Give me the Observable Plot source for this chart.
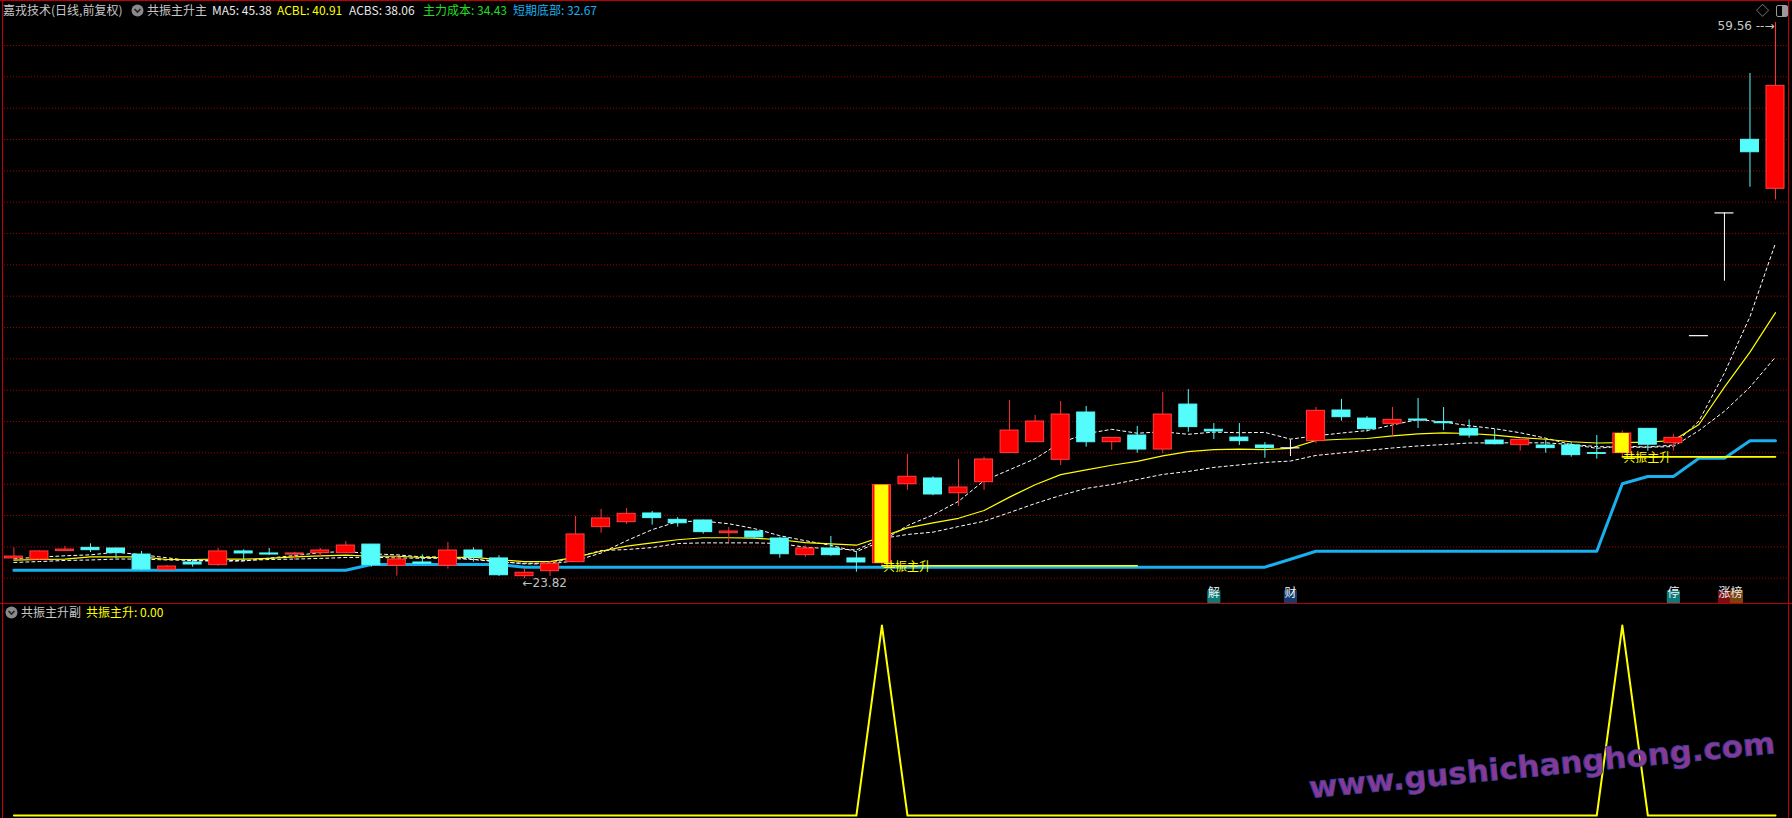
<!DOCTYPE html>
<html><head><meta charset="utf-8">
<script src="https://cdn.jsdelivr.net/npm/d3@7"></script>
<script src="https://cdn.jsdelivr.net/npm/@observablehq/plot@0.6"></script>
<style>
html,body{margin:0;padding:0;background:#000;width:1792px;height:818px;overflow:hidden;}
#wrap{position:relative;width:1792px;height:818px;background:#000;font-family:"Noto Sans CJK SC","DejaVu Sans",sans-serif;}
.abs{position:absolute;white-space:nowrap;font-size:12px;line-height:14px;}
.line{position:absolute;background:#c00000;}
#topPlot,#botPlot{position:absolute;left:0;}
#topPlot{top:0;} #botPlot{top:604px;}
</style></head>
<body><div id="wrap">
<div id="topPlot"></div>
<div id="botPlot"></div>
<div class="line" style="left:0;top:0;width:1792px;height:1px"></div>
<div class="line" style="left:2px;top:0;width:1px;height:818px"></div>
<div class="line" style="left:1788px;top:0;width:1px;height:818px"></div>
<div class="line" style="left:0;top:603px;width:1792px;height:1px"></div>

<div class="abs" style="left:3px;top:3px;color:#c8c8c8">嘉戎技术(日线,前复权)</div>
<svg style="position:absolute;left:131px;top:4px" width="13" height="13"><circle cx="6.5" cy="6.5" r="6" fill="#8a8a8a"/><path d="M3.5 5 L6.5 8 L9.5 5" stroke="#222" stroke-width="1.6" fill="none"/></svg>
<div class="abs" style="left:147px;top:3px;color:#c8c8c8">共振主升主</div>
<div class="abs" style="left:212px;top:3px;color:#e8e8e8">MA5: 45.38</div>
<div class="abs" style="left:277px;top:3px;color:#ffff00">ACBL: 40.91</div>
<div class="abs" style="left:349px;top:3px;color:#e8e8e8">ACBS: 38.06</div>
<div class="abs" style="left:423px;top:3px;color:#22dd22">主力成本: 34.43</div>
<div class="abs" style="left:513px;top:3px;color:#18b0ee">短期底部: 32.67</div>
<div class="abs" style="left:1756px;top:3px;color:#9a9a9a;font-size:13px">◇</div>
<div style="position:absolute;left:1776px;top:5px;width:10px;height:10px;border:1px solid #9a9a9a;border-radius:2px;background:linear-gradient(90deg,#000 55%,#9a9a9a 55%)"></div>

<svg style="position:absolute;left:5px;top:606px" width="13" height="13"><circle cx="6.5" cy="6.5" r="6" fill="#8a8a8a"/><path d="M3.5 5 L6.5 8 L9.5 5" stroke="#222" stroke-width="1.6" fill="none"/></svg>
<div class="abs" style="left:21px;top:605px;color:#c8c8c8">共振主升副</div>
<div class="abs" style="left:86px;top:605px;color:#ffff00">共振主升: 0.00</div>

<svg style="position:absolute;left:0;top:604px;pointer-events:none" width="1792" height="214">
<text x="1310" y="194" transform="rotate(-5.5 1310 194)" textLength="468" lengthAdjust="spacingAndGlyphs" font-family="DejaVu Sans" font-weight="bold" font-size="30" fill="#8a3896" stroke="#33409c" stroke-width="0.8">www.gushichanghong.com</text>
</svg>
</div>
<script>
// ---- data ----
const idx = d3.range(70);
const open  = [25.11,25.04,25.58,25.79,25.75,25.36,24.38,24.85,24.68,25.56, 25.43,25.36,25.45,25.45,26.00,24.64,24.85,24.64,25.62,25.11, 23.97,24.29,24.87,27.12,27.44,28.00,27.59,27.55,26.73,26.84, 26.39,25.32,25.75,25.11,24.80,29.88,30.25,29.30,30.01,31.88, 32.58,31.45,34.49,32.58,33.01,32.11,35.00,33.38,32.88,32.37, 32.22,32.65,34.62,34.10,33.76,34.04,33.87,33.44,32.69,32.39, 32.37,32.37,31.88,31.88,33.44,32.52,39.43,47.32,52.02,48.87];
const high  = [25.79,25.60,25.88,26.05,25.77,25.56,24.66,25.04,25.75,25.66, 25.75,25.49,25.75,26.20,26.01,25.30,25.34,26.13,25.79,25.28, 24.44,24.91,27.81,28.26,28.32,28.13,27.74,27.57,27.10,26.86, 26.47,25.92,26.52,25.56,29.82,31.79,30.36,31.47,31.62,35.26, 34.30,35.20,34.88,32.87,33.59,35.77,35.97,33.78,33.78,32.56, 32.73,34.81,35.33,34.23,34.81,35.39,34.81,34.02,33.40,32.78, 32.69,32.56,33.01,33.31,33.45,33.08,39.43,47.32,56.28,59.56];
const low   = [24.98,25.00,25.57,25.49,25.09,24.34,24.36,24.55,24.61,25.04, 25.30,25.00,25.23,25.44,24.55,23.97,24.72,24.42,24.87,23.95, 23.82,23.95,24.86,26.73,27.29,27.25,27.12,26.67,26.13,26.35, 25.12,25.17,25.25,24.22,24.66,29.49,29.14,28.45,29.48,31.87, 32.57,31.08,32.26,32.05,31.87,31.85,33.22,32.75,32.37,31.55, 31.66,32.48,33.93,33.23,32.97,33.46,33.33,32.84,32.41,32.00, 31.87,31.62,31.49,31.64,32.00,32.00,39.43,42.93,48.97,48.16];
const close = [25.23,25.56,25.68,25.64,25.45,24.40,24.59,24.72,25.56,25.43, 25.36,25.43,25.62,25.94,24.68,25.04,24.77,25.62,25.17,24.03, 24.19,24.77,26.65,27.68,27.98,27.70,27.37,26.80,26.84,26.46, 25.38,25.75,25.32,24.85,29.82,30.36,29.22,29.67,31.47,33.33, 33.91,34.36,32.58,32.86,32.11,34.36,33.55,33.27,32.65,32.20, 32.22,34.60,34.19,33.42,34.02,33.97,33.80,33.01,32.45,32.73, 32.20,31.75,31.83,33.14,32.42,32.86,39.43,47.32,51.22,55.49];
const ma5   = [25.09,25.19,25.28,25.34,25.51,25.35,25.15,24.96,24.94,24.94, 25.13,25.30,25.48,25.56,25.41,25.34,25.21,25.21,25.06,24.93, 24.76,24.76,24.96,25.46,26.25,26.96,27.48,27.51,27.34,27.03, 26.57,26.25,25.95,25.55,26.22,27.22,27.91,28.78,30.11,30.81, 31.52,32.55,33.13,33.41,33.16,33.25,33.09,33.23,33.19,33.21, 32.78,32.99,33.17,33.33,33.69,34.04,33.88,33.64,33.45,33.19, 32.84,32.43,32.19,32.33,32.27,32.40,33.94,37.03,40.65,45.38];
const acbl  = [25.00,25.04,25.06,25.21,25.21,25.21,25.04,25.04,25.06,25.06, 25.12,25.21,25.28,25.32,25.25,25.25,25.17,25.17,25.19,25.02, 24.91,24.91,25.19,25.57,25.90,26.11,26.31,26.44,26.44,26.41, 26.31,26.13,26.05,25.96,26.50,27.07,27.39,27.69,28.19,29.05, 29.85,30.50,30.80,31.10,31.35,31.70,31.97,32.10,32.13,32.11, 32.18,32.69,32.77,32.82,32.99,33.12,33.18,33.14,33.04,32.88, 32.77,32.61,32.53,32.56,32.59,32.69,33.72,36.12,38.37,40.91];
const acbs  = [24.85,24.91,24.98,25.01,25.07,25.07,25.01,24.98,24.98,24.98, 25.04,25.07,25.11,25.17,25.19,25.14,25.12,25.12,25.04,24.87, 24.80,24.80,25.17,25.62,25.68,25.81,26.07,26.11,26.11,26.11, 26.07,25.83,25.73,25.66,26.39,26.65,26.80,27.16,27.50,28.06, 28.64,29.16,29.61,29.86,30.18,30.51,30.70,30.96,31.12,31.28, 31.37,31.73,31.89,32.05,32.21,32.34,32.43,32.53,32.54,32.54, 32.54,32.43,32.30,32.26,32.26,32.30,33.33,34.57,36.12,38.06];
const bottomLine = [24.35,24.35,24.35,24.35,24.35,24.35,24.35,24.35,24.35,24.35, 24.35,24.35,24.35,24.35,24.72,24.72,24.72,24.72,24.72,24.72, 24.55,24.55,24.55,24.55,24.55,24.55,24.55,24.55,24.55,24.55, 24.55,24.55,24.55,24.55,24.55,24.55,24.55,24.55,24.55,24.55, 24.55,24.55,24.55,24.55,24.55,24.55,24.55,24.55,24.55,24.55, 25.06,25.57,25.57,25.57,25.57,25.57,25.57,25.57,25.57,25.57, 25.57,25.57,25.57,29.91,30.38,30.38,31.55,31.55,32.67,32.67];
const signal = [0,0,0,0,0,0,0,0,0,0, 0,0,0,0,0,0,0,0,0,0, 0,0,0,0,0,0,0,0,0,0, 0,0,0,0,1,0,0,0,0,0, 0,0,0,0,0,0,0,0,0,0, 0,0,0,0,0,0,0,0,0,0, 0,0,0,1,0,0,0,0,0,0];
const supportStart = [34, 63];
const supportEnd   = [44, 69];
const supportLevel = [24.64, 31.64];
const gridVals = [58.08,56.07,54.05,52.04,50.02,48.01,46.00,43.98,41.97,39.95,37.94,35.92,33.91,31.90,29.88,27.87,25.85,23.84];
const eventIdx  = [47, 50, 65, 67];
const eventText = ["解", "财", "停", "涨"];
const eventBg   = ["#0b7b7a", "#163c6e", "#0b7b7a", "#7a0f12"];
const lowIdx = 20, highIdx = 69;

// ---- build ----
const rows = idx.map(i => ({i, o: open[i], h: high[i], l: low[i], c: close[i],
  ma5: ma5[i], acbl: acbl[i], acbs: acbs[i], bot: bottomLine[i], sig: signal[i]}));
const upCol = "#ff0000", dnCol = "#54fcfc", eqCol = "#ffffff";
const wickCol = d => d.c > d.o ? "#ff3030" : d.c < d.o ? dnCol : eqCol;
const bodyFill = d => d.c > d.o ? upCol : dnCol;
const bodyStroke = d => d.c > d.o ? "#ff4040" : dnCol;
const sigRows = rows.filter(d => d.sig === 1);
const supportRows = supportStart.flatMap((s, k) => [{g: k, i: s, v: supportLevel[k]}, {g: k, i: supportEnd[k], v: supportLevel[k]}]);
const events = eventIdx.map((i, k) => ({i, t: eventText[k], bg: eventBg[k]}));

const xScale = {type: "band", domain: idx, paddingInner: 0.256, paddingOuter: 0, align: 0.5, axis: null};

const topChart = Plot.plot({
  width: 1792, height: 604,
  marginTop: 22, marginBottom: 26, marginLeft: 3.9, marginRight: 7.5,
  style: {background: "transparent", overflow: "visible"},
  x: xScale,
  y: {domain: [23.82, 59.56], axis: null},
  color: {type: "identity"},
  marks: [
    Plot.ruleY(gridVals, {stroke: "#b00000", strokeDasharray: "1,2", insetRight: -4}),
    Plot.line(rows, {x: "i", y: "bot", stroke: "#18b0ee", strokeWidth: 3}),
    Plot.line(rows, {x: "i", y: "acbs", stroke: "#ffffff", strokeWidth: 1, strokeDasharray: "3,3"}),
    Plot.line(rows, {x: "i", y: "ma5", stroke: "#ffffff", strokeWidth: 1, strokeDasharray: "3,3"}),
    Plot.line(rows, {x: "i", y: "acbl", stroke: "#ffff00", strokeWidth: 1.2}),
    Plot.line(supportRows, {x: "i", y: "v", z: "g", stroke: "#ffff00", strokeWidth: 1.6}),
    Plot.ruleX(rows, {x: "i", y1: "l", y2: "h", stroke: wickCol, strokeWidth: 1}),
    Plot.barY(rows.filter(d => d.o !== d.c), {x: "i", y1: "o", y2: "c", fill: bodyFill, stroke: bodyStroke, strokeWidth: 1, insetLeft: 0.5, insetRight: 0.5}),
    Plot.tickY(rows.filter(d => d.o === d.c), {x: "i", y: "c", stroke: eqCol, strokeWidth: 1.2}),
    Plot.barY(sigRows, {x: "i", y1: "o", y2: "c", fill: "#ffff00", insetLeft: 2.5, insetRight: 2.5}),
    Plot.text(sigRows, {x: "i", y: "l", text: () => "共振主升", fill: "#ffff00", textAnchor: "start", lineAnchor: "top", dx: 1, dy: -3, fontSize: 12, fontFamily: "Noto Sans CJK SC"}),
    Plot.text([lowIdx], {x: d => d, y: d => low[d], text: d => "←" + low[d].toFixed(2), fill: "#c0c0c0", textAnchor: "start", dx: -2, dy: 5, fontSize: 12, fontFamily: "DejaVu Sans"}),
    Plot.text([highIdx], {x: d => d, y: d => high[d], text: d => high[d].toFixed(2) + " --→", fill: "#c8c8c8", textAnchor: "end", dx: -1, dy: 4, fontSize: 12, fontFamily: "DejaVu Sans"}),
    Plot.dot(events, {x: "i", frameAnchor: "bottom", symbol: "square", r: 7.4, fill: "bg", dy: 18.5}),
    Plot.dot([67], {x: d => d, frameAnchor: "bottom", symbol: "square", r: 7.4, fill: "#7a4410", dy: 18.5, dx: 12}),
    Plot.text(events, {x: "i", frameAnchor: "bottom", text: "t", fill: "#e8f4f4", dy: 18.5, fontSize: 12, fontFamily: "Noto Sans CJK SC"}),
    Plot.text([67], {x: d => d, frameAnchor: "bottom", text: () => "榜", fill: "#f0e8e0", dy: 18.5, dx: 12, fontSize: 12, fontFamily: "Noto Sans CJK SC"})
  ]
});
document.getElementById("topPlot").append(topChart);

const botChart = Plot.plot({
  width: 1792, height: 214,
  marginTop: 21, marginBottom: 3, marginLeft: 3.9, marginRight: 7.5,
  style: {background: "transparent", overflow: "visible"},
  x: xScale,
  y: {domain: [0, 1], axis: null},
  marks: [
    Plot.line(rows, {x: "i", y: "sig", stroke: "#ffff00", strokeWidth: 2})
  ]
});
document.getElementById("botPlot").append(botChart);
</script>
</body></html>
